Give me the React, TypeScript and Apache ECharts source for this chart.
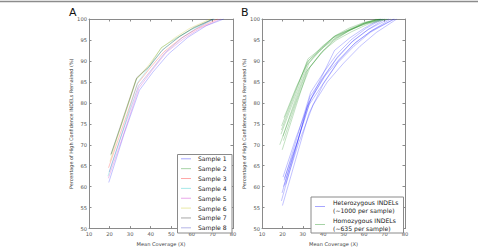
import React, { useEffect, useRef } from "react";
import * as echarts from "echarts";

// Panel A: per-sample retention curves (mean coverage X, % remained)
const sampleNames = ["Sample 1", "Sample 2", "Sample 3", "Sample 4", "Sample 5", "Sample 6", "Sample 7", "Sample 8"];
const sampleColors = ["#0000ff", "#008000", "#ff0000", "#00bfbf", "#bf00bf", "#bfbf00", "#000000", "#2a2ab8"];
const sample1 = [[19.6, 61.0], [27, 72.5], [34.5, 83.0], [41, 87.3], [48.5, 91.6], [58, 95.6], [67, 98.4], [75.5, 100]];
const sample2 = [[20.5, 67.5], [27, 76.5], [33.2, 85.8], [39, 88.5], [45.2, 93.2], [53, 95.6], [60, 97.6], [70, 100]];
const sample3 = [[19.5, 64.5], [26.5, 74.5], [33.5, 84.5], [40, 88.5], [46.5, 92.2], [55, 95.5], [63, 97.8], [72.5, 100]];
const sample4 = [[19.2, 62.5], [26.5, 73.5], [33.6, 84.8], [40, 89], [46, 92.8], [54, 95.8], [61, 97.8], [71, 100]];
const sample5 = [[19.4, 62.0], [26.8, 72.5], [34.2, 83.5], [41, 88], [47.5, 92.0], [56, 95.3], [64, 97.8], [74, 100]];
const sample6 = [[20.2, 66.0], [26.5, 76], [32.8, 85.5], [39, 89], [45, 93], [52, 95.6], [59, 97.8], [69, 100]];
const sample7 = [[20.8, 67.8], [27, 77], [33.2, 86.0], [39.5, 88.8], [45.5, 92.5], [54, 95.8], [61, 98.0], [70.5, 100]];
const sample8 = [[19.8, 63.5], [27, 74], [34, 84], [40.5, 88], [47, 92], [55.5, 95.6], [62, 97.7], [70.5, 100]];
const samplesA = [sample1, sample2, sample3, sample4, sample5, sample6, sample7, sample8];

// Panel B: heterozygous vs homozygous INDELs per sample
const hetLabel = ["Heterozygous INDELs", "(~1000 per sample)"];
const homLabel = ["Homozygous INDELs", "(~635 per sample)"];
const het1 = [[19.5, 56.6], [26, 68], [32, 79], [39, 86], [45.5, 92.5], [53, 95.5], [60, 97.8], [68, 100]];
const het2 = [[20, 55.5], [26.5, 66.5], [33, 77.5], [40, 84.5], [47, 89.5], [55, 93.5], [63, 96.8], [74.5, 100]];
const het3 = [[20.3, 62.3], [26.5, 71.5], [33, 80], [40, 86], [46.5, 90.5], [54, 94.5], [62, 97.5], [72, 100]];
const het4 = [[21, 62], [27.5, 71], [34, 81], [41, 86.5], [48, 90.5], [56, 94.5], [64, 97.3], [75, 100]];
const het5 = [[19.8, 58.5], [26.5, 69.5], [33, 79.5], [40.5, 85], [47.5, 90], [55, 94], [63, 97], [73, 100]];
const het6 = [[20.5, 60], [27, 70], [33.5, 81.5], [40.5, 86.5], [47, 91], [54.5, 94.8], [62, 97.5], [70, 100]];
const het7 = [[21.5, 60.5], [28, 70.5], [35, 79.5], [42, 85], [50, 89.5], [58, 93.5], [66, 96.8], [76, 100]];
const het8 = [[20.8, 61.5], [27.3, 72], [33.8, 82.5], [40.5, 87.5], [46.5, 91.5], [53.5, 95], [61, 97.8], [69, 100]];
const hom1 = [[19.5, 73.5], [26, 82], [32.5, 90.5], [39, 93], [45.5, 95.8], [53, 97.5], [60, 99], [68, 100]];
const hom2 = [[20.8, 76.5], [27, 84], [33, 90.2], [39.5, 93.5], [46, 96], [54, 97.8], [61, 99.2], [69, 100]];
const hom3 = [[18.7, 70], [25.5, 79], [31.8, 87.5], [38.5, 91.5], [45, 94.8], [52, 97], [59, 98.8], [66, 100]];
const hom4 = [[19.9, 68.8], [26.5, 79], [32.5, 88], [39, 92], [45.5, 95.2], [53, 97.3], [60, 98.8], [70, 100]];
const hom5 = [[20.2, 72], [26.8, 81.5], [33, 89.5], [39.5, 93], [46, 95.5], [53.5, 97.5], [61, 99], [71, 100]];
const hom6 = [[19.6, 74.5], [26, 82.5], [32.2, 89.8], [38.5, 92.5], [45, 95.5], [52, 97.2], [59, 98.5], [67, 100]];
const hom7 = [[20.5, 71], [27, 80.5], [33.5, 88.5], [40, 92.5], [46.5, 95], [54, 97], [62, 98.8], [72, 100]];
const hom8 = [[19.3, 72.5], [25.8, 81], [32, 89], [38.5, 92.8], [45, 95.8], [52.5, 97.8], [60, 99.2], [68, 100]];
const hetSeries = [het1, het2, het3, het4, het5, het6, het7, het8];
const homSeries = [hom1, hom2, hom3, hom4, hom5, hom6, hom7, hom8];
const hetColor = "#0000ff";
const homColor = "#008000";

const xMin = 10;
const xMax = 80;
const xStep = 10;
const yMin = 50;
const yMax = 100;
const yStep = 5;
const xTitle = "Mean Coverage (X)";
const yTitle = "Percentage of High Confidence INDELs Remained (%)";

const FONT = "DejaVu Sans";
const FRAME = "#8a8a8a";
const LABEL = "#555";
const LINE_OPACITY = 0.3;

export default function App() {
  const ref = useRef<HTMLDivElement>(null);

  useEffect(() => {
    if (!ref.current) return;
    const chart = echarts.init(ref.current, null, { renderer: "svg" });

    const grids = [
      { left: 89, top: 19, width: 144, height: 218 },
      { left: 262, top: 19, width: 143, height: 218 },
    ];

    const xAxes: any[] = [];
    const yAxes: any[] = [];
    const tick = { show: true, inside: true, length: 2.5, lineStyle: { color: FRAME } };
    const frameLine = { show: true, onZero: false, lineStyle: { color: FRAME, width: 1 } };
    grids.forEach((_, gi) => {
      const xc = { gridIndex: gi, type: "value", min: xMin, max: xMax, interval: xStep };
      xAxes.push({
        ...xc,
        position: "bottom",
        name: xTitle,
        nameLocation: "middle",
        nameGap: 7,
        nameTextStyle: { fontFamily: FONT, fontSize: 5.1, color: "#444" },
        axisLine: frameLine,
        axisTick: tick,
        axisLabel: { fontFamily: FONT, fontSize: 5.2, color: LABEL, margin: 2.5 },
        splitLine: { show: false },
      });
      xAxes.push({
        ...xc,
        position: "top",
        axisLine: frameLine,
        axisTick: tick,
        axisLabel: { show: false },
        splitLine: { show: false },
      });
      const yc = { gridIndex: gi, type: "value", min: yMin, max: yMax, interval: yStep };
      yAxes.push({
        ...yc,
        position: "left",
        name: yTitle,
        nameLocation: "middle",
        nameGap: 14,
        nameRotate: 90,
        nameTextStyle: { fontFamily: FONT, fontSize: 4.9, color: "#444" },
        axisLine: frameLine,
        axisTick: tick,
        axisLabel: { fontFamily: FONT, fontSize: 5.2, color: LABEL, margin: 2 },
        splitLine: { show: false },
      });
      yAxes.push({
        ...yc,
        position: "right",
        axisLine: frameLine,
        axisTick: tick,
        axisLabel: { show: false },
        splitLine: { show: false },
      });
    });

    const lineSeries = (data: number[][], name: string, color: string, g: number) => ({
      type: "line",
      name,
      data,
      xAxisIndex: g * 2,
      yAxisIndex: g * 2,
      showSymbol: false,
      symbol: "none",
      silent: true,
      lineStyle: { color, width: 0.8, opacity: LINE_OPACITY },
    });

    const series: any[] = [];
    samplesA.forEach((d, i) => series.push(lineSeries(d, sampleNames[i], sampleColors[i], 0)));
    hetSeries.forEach((d) => series.push(lineSeries(d, hetLabel.join(" "), hetColor, 1)));
    homSeries.forEach((d) => series.push(lineSeries(d, homLabel.join(" "), homColor, 1)));

    const txt = (s: string, x: number, y: number) => ({
      type: "text",
      x,
      y,
      style: {
        text: s,
        fontFamily: FONT,
        fontSize: 6.1,
        lineHeight: 7,
        fill: "#222",
        verticalAlign: "middle",
        align: "left",
      },
    });

    const graphic: any[] = [];
    graphic.push({
      type: "line",
      shape: { x1: 0, y1: 1.5, x2: 478, y2: 1.5 },
      style: { stroke: "#8c8c8c", lineWidth: 1.5 },
    });
    graphic.push({
      type: "text",
      x: 69,
      y: 7,
      style: { text: "A", fontFamily: FONT, fontSize: 11, fill: "#111" },
    });
    graphic.push({
      type: "text",
      x: 241,
      y: 7,
      style: { text: "B", fontFamily: FONT, fontSize: 11, fill: "#111" },
    });

    // Legend for panel A
    graphic.push({
      type: "rect",
      z: 100,
      shape: { x: 177.5, y: 154.5, width: 54.5, height: 78.5 },
      style: { fill: "#fff", stroke: FRAME, lineWidth: 1 },
    });
    sampleNames.forEach((nm, i) => {
      const y = 158.8 + i * 9.86;
      graphic.push({
        type: "line",
        z: 101,
        shape: { x1: 181, y1: y, x2: 191, y2: y },
        style: { stroke: sampleColors[i], opacity: LINE_OPACITY + 0.05, lineWidth: 1 },
      });
      graphic.push({ ...txt(nm, 198, y), z: 101 });
    });

    // Legend for panel B
    graphic.push({
      type: "rect",
      z: 100,
      shape: { x: 311, y: 197, width: 92.5, height: 36 },
      style: { fill: "#fff", stroke: FRAME, lineWidth: 1 },
    });
    [
      { label: hetLabel, color: hetColor, y: 206.5 },
      { label: homLabel, color: homColor, y: 224.5 },
    ].forEach((e) => {
      graphic.push({
        type: "line",
        z: 101,
        shape: { x1: 315, y1: e.y, x2: 325, y2: e.y },
        style: { stroke: e.color, opacity: LINE_OPACITY + 0.05, lineWidth: 1 },
      });
      graphic.push({ ...txt(e.label[0], 333, e.y - 4.2), z: 101 });
      graphic.push({ ...txt(e.label[1], 333, e.y + 3.6), z: 101 });
    });

    chart.setOption({
      animation: false,
      backgroundColor: "#fff",
      grid: grids.map((g) => ({ ...g, containLabel: false })),
      xAxis: xAxes,
      yAxis: yAxes,
      series,
      graphic,
    });

    return () => chart.dispose();
  }, []);

  return (
    <div
      ref={ref}
      style={{ position: "fixed", left: 0, top: 0, width: 478, height: 251, background: "#fff" }}
    />
  );
}
